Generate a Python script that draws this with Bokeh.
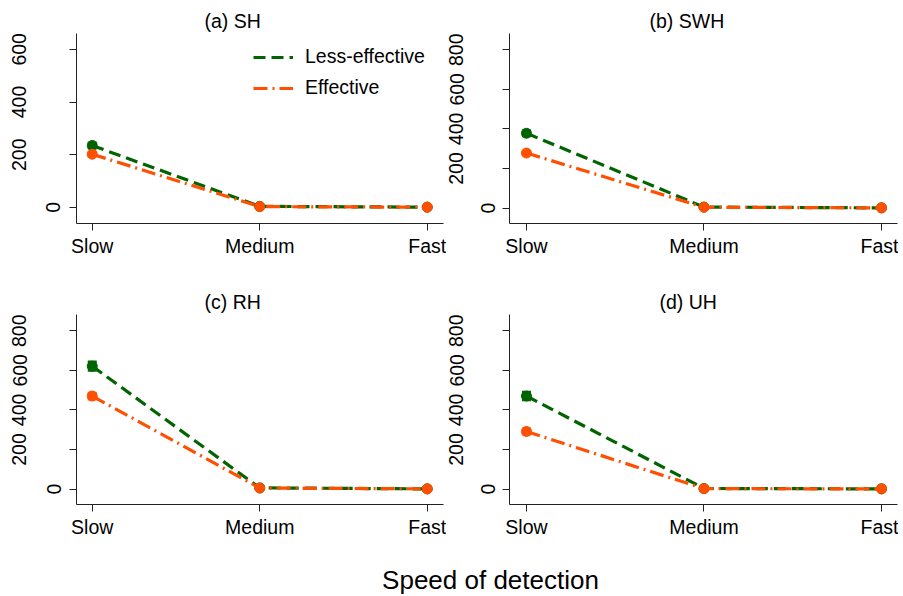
from bokeh.plotting import figure
from bokeh.models import (Range1d, FixedTicker, Legend, LegendItem, Label, Whisker,
                          ColumnDataSource, TeeHead, LinearAxis)
from bokeh.layouts import column, row
from bokeh.embed import file_html
from bokeh.resources import INLINE

# ---------------- data ----------------
categories = ["Slow", "Medium", "Fast"]
panel_titles = ["(a) SH", "(b) SWH", "(c) RH", "(d) UH"]
series_names = ["Less-effective", "Effective"]

less_sh = [235, 4, 1]
eff_sh = [202, 3, 1]
less_swh = [378, 5, 1]
eff_swh = [278, 4, 1]
less_rh = [621, 6, 1]
eff_rh = [470, 5, 1]
less_uh = [470, 3, 1]
eff_uh = [291, 2, 1]

# half-width of confidence intervals
less_sh_err = [10, 2, 1]
eff_sh_err = [8, 2, 1]
less_swh_err = [14, 2, 1]
eff_swh_err = [10, 2, 1]
less_rh_err = [22, 3, 1]
eff_rh_err = [16, 2, 1]
less_uh_err = [20, 2, 1]
eff_uh_err = [14, 2, 1]

y_ticks_a = [0, 200, 400, 600]
y_ticks = [0, 200, 400, 600, 800]
y_range_a = (-61, 660)
y_range = (-78, 882)

GREEN = "#006400"
ORANGE = "#FF4F00"
FONT = "Liberation Sans"
FS = "19.5px"


def make_panel(title, less, eff, less_err, eff_err, yticks, yrng, width, height,
               mb_left, mb_right, mb_top, mb_bottom, xr, title_offset,
               zero_standoff, other_standoff, legend=False):
    p = figure(width=width, height=height, output_backend="svg", toolbar_location=None,
               x_range=Range1d(*xr), y_range=Range1d(*yrng),
               min_border_left=mb_left, min_border_right=mb_right,
               min_border_top=mb_top, min_border_bottom=mb_bottom)
    p.outline_line_color = None
    p.grid.visible = False
    p.background_fill_color = "white"

    p.title.text = title
    p.title.align = "left"
    p.title.offset = title_offset
    p.title.standoff = 4
    p.title.text_font = FONT
    p.title.text_font_size = FS
    p.title.text_font_style = "normal"
    p.title.text_color = "black"

    xs = list(range(len(categories)))
    # x axis
    xa = p.xaxis[0]
    xa.ticker = FixedTicker(ticks=xs)
    xa.major_label_overrides = {i: c for i, c in enumerate(categories)}
    xa.minor_tick_line_color = None
    xa.major_tick_in = 0
    xa.major_tick_out = 7
    xa.major_label_standoff = 4
    xa.major_label_text_font = FONT
    xa.major_label_text_font_size = FS
    xa.major_label_text_color = "black"
    xa.axis_line_color = "#222222"
    xa.major_tick_line_color = "#222222"

    # inner y axis: carries ticks and the "0" label
    ya = p.yaxis[0]
    ya.ticker = FixedTicker(ticks=yticks)
    ya.major_label_overrides = {t: ("0" if t == 0 else "") for t in yticks}
    ya.minor_tick_line_color = None
    ya.major_tick_in = 0
    ya.major_tick_out = 7
    ya.major_label_orientation = "vertical"
    ya.major_label_standoff = zero_standoff
    ya.major_label_text_font = FONT
    ya.major_label_text_font_size = FS
    ya.major_label_text_color = "black"
    ya.axis_line_color = "#222222"
    ya.major_tick_line_color = "#222222"

    # outer y axis: the other labels
    ya2 = LinearAxis(ticker=FixedTicker(ticks=[t for t in yticks if t != 0]))
    ya2.axis_line_color = None
    ya2.major_tick_line_color = None
    ya2.minor_tick_line_color = None
    ya2.major_tick_in = 0
    ya2.major_tick_out = 0
    ya2.major_label_orientation = "vertical"
    ya2.major_label_standoff = other_standoff
    ya2.major_label_text_font = FONT
    ya2.major_label_text_font_size = FS
    ya2.major_label_text_color = "black"
    p.add_layout(ya2, "left")

    renderers = []
    for vals, errs, color, dash in [(less, less_err, GREEN, "12 6"),
                                    (eff, eff_err, ORANGE, "14 5 2 5")]:
        src = ColumnDataSource(dict(
            x=xs, y=vals,
            upper=[v + e for v, e in zip(vals, errs)],
            lower=[v - e for v, e in zip(vals, errs)]))
        r = p.line("x", "y", source=src, line_color=color, line_width=3.2, line_dash=dash)
        p.scatter("x", "y", source=src, size=10, fill_color=color, line_color=color)
        w = Whisker(source=src, base="x", upper="upper", lower="lower",
                    line_color=color, line_width=2.5,
                    upper_head=TeeHead(size=9, line_color=color, line_width=2.5),
                    lower_head=TeeHead(size=9, line_color=color, line_width=2.5))
        p.add_layout(w)
        renderers.append(r)

    if legend:
        lg = Legend(items=[LegendItem(label=series_names[0], renderers=[renderers[0]]),
                           LegendItem(label=series_names[1], renderers=[renderers[1]])],
                    location=(177, 124))
        lg.border_line_color = None
        lg.background_fill_alpha = 0
        lg.padding = 0
        lg.margin = 0
        lg.spacing = 8
        lg.glyph_width = 40
        lg.glyph_height = 20
        lg.label_height = 20
        lg.label_standoff = 12
        lg.label_text_font = FONT
        lg.label_text_font_size = FS
        lg.label_text_color = "black"
        p.add_layout(lg, "center")
    return p


xr_left = (-0.094, 2.097)
xr_right = (-0.0955, 2.09)

pa = make_panel(panel_titles[0], less_sh, eff_sh, less_sh_err, eff_sh_err, y_ticks_a, y_range_a,
                446, 278, 76, 3, 33, 55, xr_left, 128, 9, 17, legend=True)
pb = make_panel(panel_titles[1], less_swh, eff_swh, less_swh_err, eff_swh_err, y_ticks, y_range,
                452, 278, 62, 1, 33, 55, xr_right, 140, 8, 14)
pc = make_panel(panel_titles[2], less_rh, eff_rh, less_rh_err, eff_rh_err, y_ticks, y_range,
                446, 266, 76, 3, 36, 40, xr_left, 128, 9, 17)
pd = make_panel(panel_titles[3], less_uh, eff_uh, less_uh_err, eff_uh_err, y_ticks, y_range,
                452, 266, 62, 1, 36, 40, xr_right, 150, 8, 14)

pt = figure(width=898, height=52, output_backend="svg", toolbar_location=None,
            x_axis_location=None, y_axis_location=None,
            min_border_left=0, min_border_right=0, min_border_top=0, min_border_bottom=0)
pt.outline_line_color = None
pt.grid.visible = False
pt.add_layout(Label(x=490, y=17, x_units="screen", y_units="screen", text="Speed of detection",
                    text_align="center", text_baseline="middle", text_font=FONT,
                    text_font_size="26px", text_color="black"))

layout = column(row(pa, pb), row(pc, pd), pt)

open("out.html", "w").write(file_html(layout, INLINE))
